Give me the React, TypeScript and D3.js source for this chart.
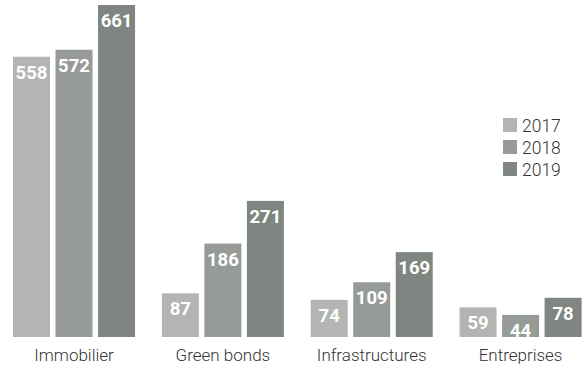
import React from "react";
import * as d3 from "d3";

const categories = ["Immobilier", "Green bonds", "Infrastructures", "Entreprises"];
const years = ["2017", "2018", "2019"];
const values2017 = [558, 87, 74, 59];
const values2018 = [572, 186, 109, 44];
const values2019 = [661, 271, 169, 78];
const seriesValues = [values2017, values2018, values2019];
const colors = ["#b3b5b2", "#979b98", "#7f8681"];

const W = 583;
const H = 366;
const FONT = "Roboto, 'Noto Sans', sans-serif";

export default function App() {
  const x0 = d3.scaleBand<string>().domain(categories).range([13, 581.6]).paddingInner(0.18).paddingOuter(0);
  const x1 = d3.scaleBand<string>().domain(years).range([0, x0.bandwidth()]).paddingInner(0.13).paddingOuter(0);
  const y = d3.scaleLinear().domain([0, 661]).range([337, 5]);

  return (
    <svg width={W} height={H} style={{ position: "absolute", left: 0, top: 0 }} fontFamily={FONT}>
      {categories.map((cat, ci) => (
        <g key={cat} transform={`translate(${x0(cat)},0)`}>
          {years.map((yr, si) => {
            const v = seriesValues[si][ci];
            const bx = x1(yr)!;
            const by = y(v);
            return (
              <g key={yr}>
                <rect x={bx} y={by} width={x1.bandwidth()} height={y(0) - by} fill={colors[si]} />
                <text
                  x={bx + x1.bandwidth() / 2}
                  y={by + 22}
                  textAnchor="middle"
                  fill="#ffffff"
                  fontWeight="bold"
                  fontSize={18.5}
                >
                  {v}
                </text>
              </g>
            );
          })}
          <text x={x0.bandwidth() / 2} y={361} textAnchor="middle" fill="#333333" fontSize={17} fontWeight={300}>
            {cat}
          </text>
        </g>
      ))}
      {years.map((yr, si) => (
        <g key={yr} transform={`translate(503,${118 + si * 22})`}>
          <rect x={0} y={0} width={14} height={14} fill={colors[si]} />
          <text x={19} y={13.5} fill="#333333" fontSize={17.5} fontWeight={300}>
            {yr}
          </text>
        </g>
      ))}
    </svg>
  );
}
